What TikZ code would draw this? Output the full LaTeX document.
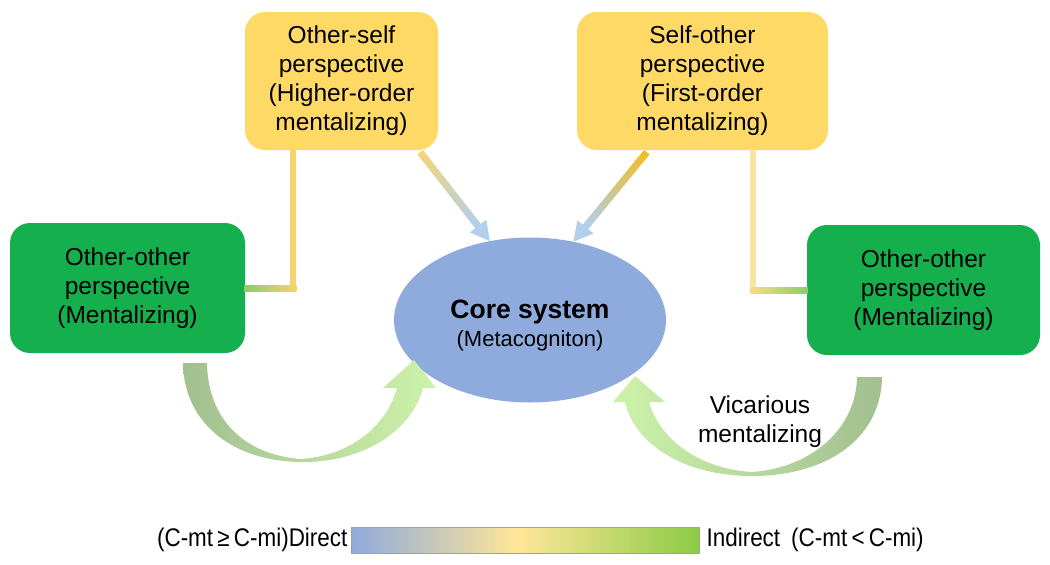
\documentclass[tikz,border=0pt]{standalone}
\usepackage{fontspec}
\setmainfont{Liberation Sans}
\newfontfamily\narrowfont[FakeStretch=0.88]{Liberation Sans}
\usetikzlibrary{shapes.geometric,calc,arrows.meta}
\definecolor{boxyel}{HTML}{FFD966}
\definecolor{boxgrn}{HTML}{15B04D}
\definecolor{coreblue}{HTML}{8FAADC}
\definecolor{lblue}{HTML}{B2CFEC}
\definecolor{conyel}{HTML}{F5D46E}
\definecolor{conpale}{HTML}{F7E6A2}
\definecolor{arryel}{HTML}{F3D67C}
\definecolor{arrorg}{HTML}{F0BE22}
\definecolor{hgreen}{HTML}{8CCB6C}
\definecolor{hpale}{HTML}{DCEDC4}
\definecolor{cvdark}{HTML}{A2BF90}
\definecolor{cvlight}{HTML}{CDF3AA}
\definecolor{cb1}{HTML}{8FAADC}
\definecolor{cb2}{HTML}{FFE699}
\definecolor{cb3}{HTML}{8BCB45}
\definecolor{cbborder}{HTML}{9AA890}
\pgfdeclarehorizontalshading{cbarsh}{100bp}{color(0bp)=(cb1); color(25bp)=(cb1); color(49bp)=(cb2); color(75bp)=(cb3); color(100bp)=(cb3)}
\newcommand\gradarrow[4]{%
  \coordinate (ga-s) at (#1);
  \coordinate (ga-t) at (#2);
  \coordinate (ga-e) at ($(ga-t)!19pt!(ga-s)$);
  \foreach \i in {0,...,29}{%
    \pgfmathsetmacro\pp{100*\i/29}%
    \draw[line width=7pt, #4!\pp!#3] ($(ga-s)!\i/30!(ga-e)$) -- ($(ga-s)!{(\i+1.4)/30}!(ga-e)$);
  }
  \fill[#4] (ga-t) -- ($(ga-e)!10.5pt!90:(ga-t)$) -- ($(ga-e)!10.5pt!-90:(ga-t)$) -- cycle;
}
\begin{document}
\begin{tikzpicture}[x=1pt,y=-1pt,
  boxtext/.style={align=center, font=\fontsize{24.5}{29}\selectfont, inner sep=0pt},
  ybox/.style={boxtext, fill=boxyel, rounded corners=20pt},
  gbox/.style={boxtext, fill=boxgrn, rounded corners=20pt},
  bartext/.style={inner sep=0pt, font=\narrowfont\fontsize{25.5}{28}\selectfont},
]
\useasboundingbox (0,0) rectangle (1050,565);

% boxes
\node[ybox, minimum width=193pt, minimum height=138pt] (os) at (341.5,81) {Other-self\\perspective\\(Higher-order\\mentalizing)};
\node[ybox, minimum width=251pt, minimum height=138pt] (so) at (702.5,81) {Self-other\\perspective\\(First-order\\mentalizing)};
\node[gbox, minimum width=235pt, minimum height=130pt] (lg) at (127.5,288) {Other-other\\perspective\\(Mentalizing)};
\node[gbox, minimum width=233pt, minimum height=130pt] (rg) at (923.5,290) {Other-other\\perspective\\(Mentalizing)};
\node[ellipse, fill=coreblue, minimum width=272pt, minimum height=165pt, inner sep=0pt, align=center,
      font=\fontsize{22}{28}\selectfont] (core) at (530,320)
  {\rule{0pt}{30pt}{\fontsize{26.5}{29}\selectfont\bfseries Core system}\\(Metacogniton)};

% L-shaped connectors
\coordinate (lv) at ($(os.south west)+(48.5,0)$);
\coordinate (lc) at (lv |- lg.east);
\draw[line width=6pt, conyel] (lv) -- ($(lc)+(0,3)$);
\shade[left color=hgreen, middle color=hpale, right color=conyel] ($(lg.east)+(-1,-3)$) rectangle ($(lc)+(3,3)$);

\coordinate (rv) at ($(so.south west)+(176,0)$);
\coordinate (rc) at (rv |- rg.west);
\draw[line width=6pt, conpale] (rv) -- ($(rc)+(0,3)$);
\shade[left color=conyel!80!white, middle color=hpale, right color=hgreen] ($(rc)+(-3,-3)$) rectangle ($(rg.west)+(1,3)$);

% straight arrows
\gradarrow{$(os.south east)+(-18,2)$}{core.117}{arryel}{lblue}
\gradarrow{$(so.south west)+(70,2)$}{core.61}{arrorg}{lblue}

% curved arrows
\shade[left color=cvdark, right color=cvlight]
  (183,363) .. controls (184,425) and (235,462) .. (303,462)
  .. controls (365,462) and (412,430) .. (423,388)
  -- (436,388) -- (414,360) -- (383,388) -- (397,388)
  .. controls (386,428) and (348,456) .. (301,459)
  .. controls (245,455) and (208,420) .. (207,363) -- cycle;

\shade[left color=cvlight, right color=cvdark]
  (882,377) .. controls (881,440) and (825,476) .. (752,476)
  .. controls (685,476) and (635,445) .. (625,402)
  -- (613,402) -- (635,376) -- (665,402) -- (649,402)
  .. controls (660,440) and (700,469) .. (752,472)
  .. controls (810,468) and (856,430) .. (857,377) -- cycle;

\node[boxtext] (vic) at (760,422) {Vicarious\\mentalizing};

% colour bar
\node[draw=cbborder, line width=0.8pt, shade, shading=cbarsh, minimum width=348pt, minimum height=26pt, inner sep=0pt] (bar) at (525,540) {};
\node[bartext, anchor=east] (dl) at ($(bar.west)+(-3,0)$) {(C-mt\,≥\,C-mi)Direct};
\node[bartext, anchor=west] (il) at ($(bar.east)+(7,0)$) {Indirect\hspace{11pt}(C-mt\,<\,C-mi)};
\end{tikzpicture}
\end{document}
